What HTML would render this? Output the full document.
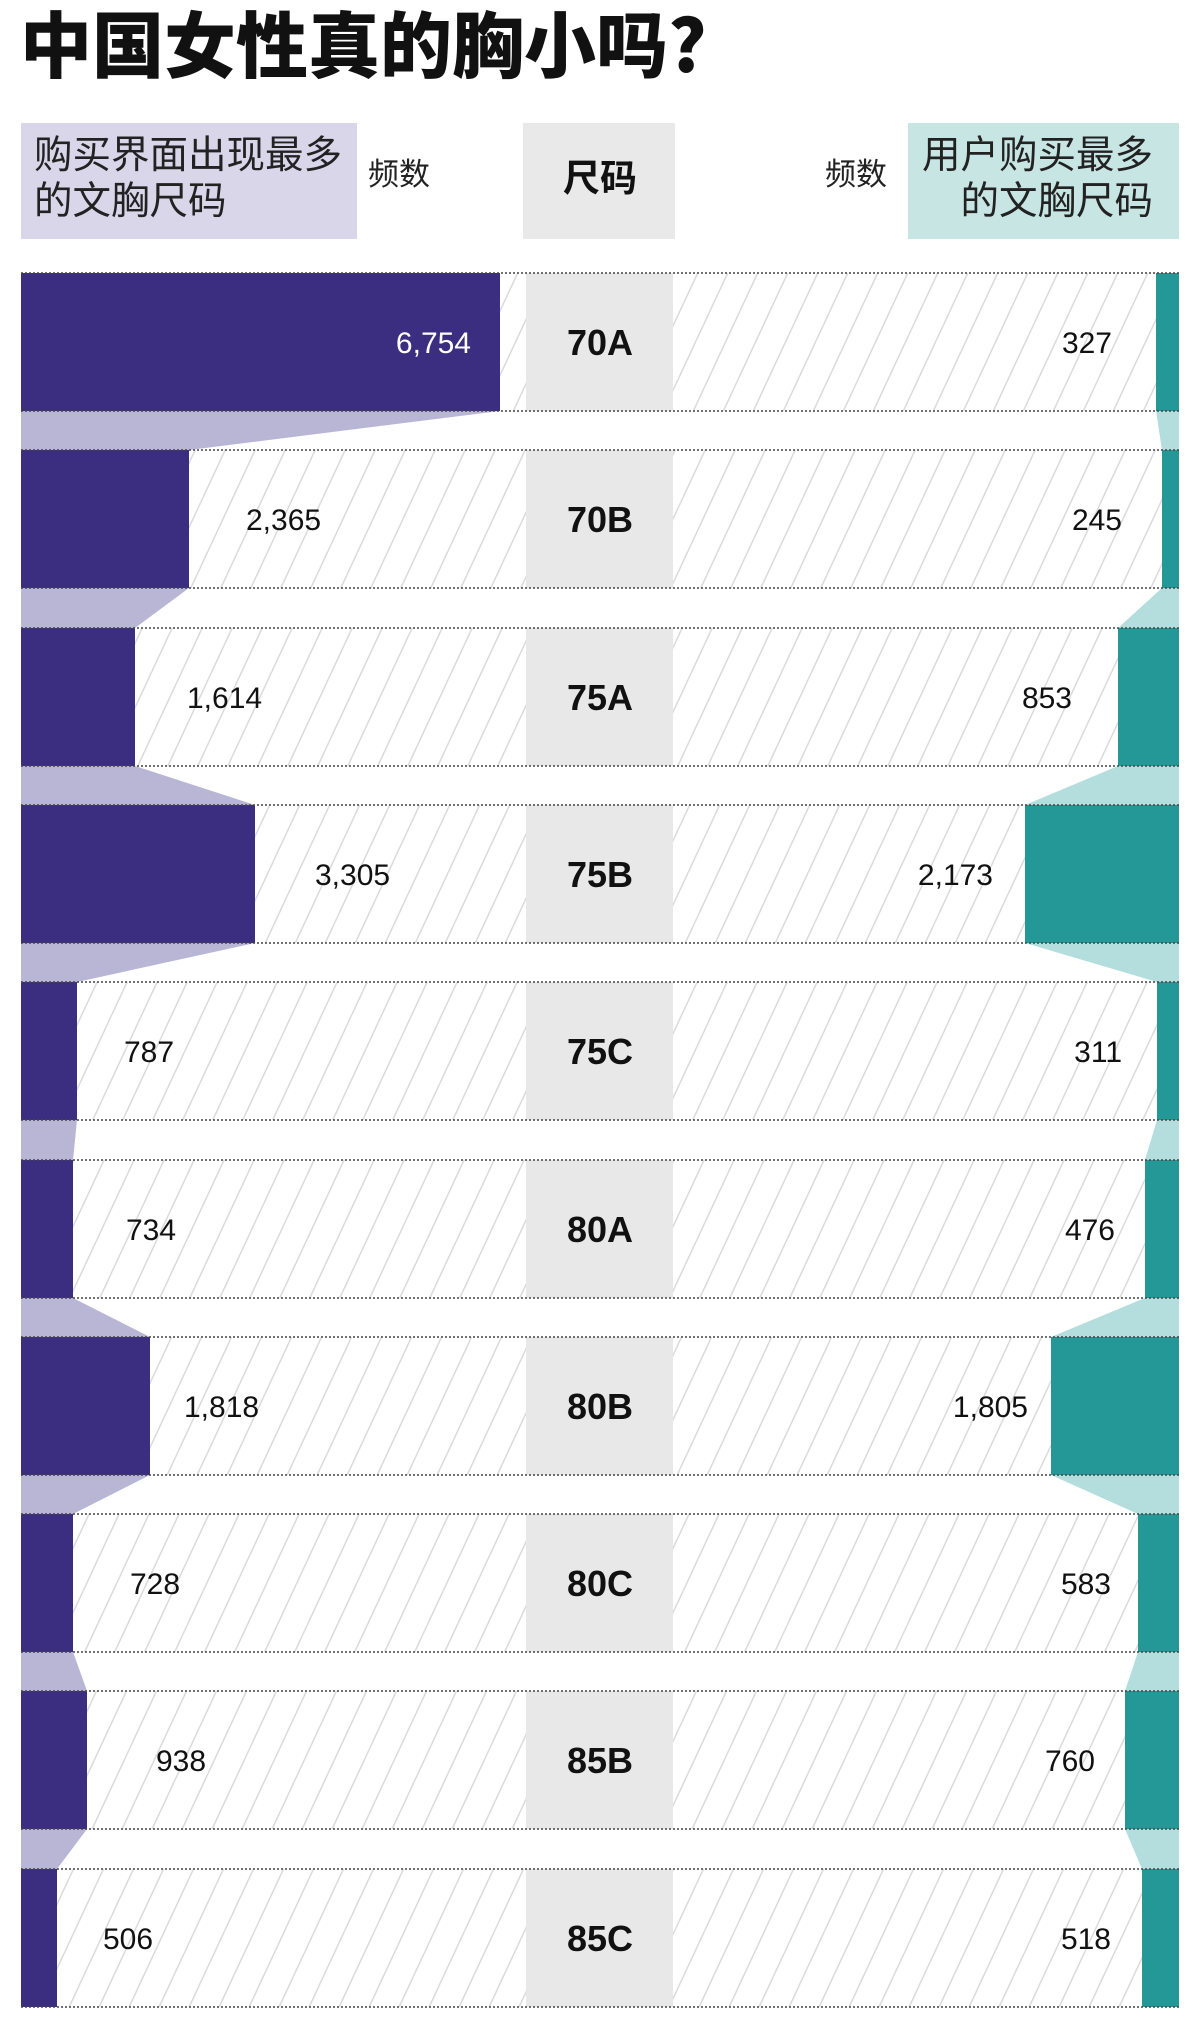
<!DOCTYPE html>
<html><head><meta charset="utf-8"><style>
html,body{margin:0;padding:0;background:#fff;}
svg{display:block;}
text{font-family:"Liberation Sans","Noto Sans CJK SC",sans-serif;}
.cjk{font-family:"Noto Sans CJK SC","WenQuanYi Zen Hei",sans-serif;}
.num{font-size:30px;fill:#111;}
.sz{font-size:36px;font-weight:bold;fill:#111;text-anchor:middle;}
</style></head><body>
<svg width="1200" height="2019" viewBox="0 0 1200 2019" xmlns="http://www.w3.org/2000/svg">
<defs>
<pattern id="h" width="30" height="64" patternUnits="userSpaceOnUse" patternTransform="skewX(-25)">
<line x1="15" y1="0" x2="15" y2="64" stroke="#d6d6d6" stroke-width="1.5"/>
</pattern>
</defs>
<text x="20" y="72" class="cjk" style="font-size:72px;font-weight:900;fill:#111">中国女性真的胸小吗?</text>

<rect x="21" y="123" width="336" height="116" fill="#d9d6e9"/>
<text x="34" y="168" class="cjk" style="font-size:38.5px;fill:#222">购买界面出现最多</text>
<text x="34" y="214" class="cjk" style="font-size:38.5px;fill:#222">的文胸尺码</text>
<text x="368" y="185" class="cjk" style="font-size:31px;fill:#222">频数</text>
<rect x="523" y="123" width="152" height="116" fill="#e9e9e9"/>
<text x="600" y="191" class="cjk" style="font-size:37px;font-weight:bold;fill:#111;text-anchor:middle">尺码</text>
<text x="825" y="185" class="cjk" style="font-size:31px;fill:#222">频数</text>
<rect x="908" y="123" width="271" height="116" fill="#c7e5e3"/>
<text x="1153" y="168" class="cjk" style="font-size:38.5px;fill:#222;text-anchor:end">用户购买最多</text>
<text x="1153" y="214" class="cjk" style="font-size:38.5px;fill:#222;text-anchor:end">的文胸尺码</text>

<g>
<rect x="21" y="273" width="1158" height="138" fill="url(#h)"/>
<rect x="21" y="450" width="1158" height="138" fill="url(#h)"/>
<rect x="21" y="628" width="1158" height="138" fill="url(#h)"/>
<rect x="21" y="805" width="1158" height="138" fill="url(#h)"/>
<rect x="21" y="982" width="1158" height="138" fill="url(#h)"/>
<rect x="21" y="1160" width="1158" height="138" fill="url(#h)"/>
<rect x="21" y="1337" width="1158" height="138" fill="url(#h)"/>
<rect x="21" y="1514" width="1158" height="138" fill="url(#h)"/>
<rect x="21" y="1691" width="1158" height="138" fill="url(#h)"/>
<rect x="21" y="1869" width="1158" height="138" fill="url(#h)"/>
</g>
<g fill="#e8e8e8">
<rect x="526" y="273" width="147" height="138"/>
<rect x="526" y="450" width="147" height="138"/>
<rect x="526" y="628" width="147" height="138"/>
<rect x="526" y="805" width="147" height="138"/>
<rect x="526" y="982" width="147" height="138"/>
<rect x="526" y="1160" width="147" height="138"/>
<rect x="526" y="1337" width="147" height="138"/>
<rect x="526" y="1514" width="147" height="138"/>
<rect x="526" y="1691" width="147" height="138"/>
<rect x="526" y="1869" width="147" height="138"/>
</g>
<g fill="#3b2d80">
<rect x="21" y="273" width="479" height="138"/>
<rect x="21" y="450" width="168" height="138"/>
<rect x="21" y="628" width="114" height="138"/>
<rect x="21" y="805" width="234" height="138"/>
<rect x="21" y="982" width="56" height="138"/>
<rect x="21" y="1160" width="52" height="138"/>
<rect x="21" y="1337" width="129" height="138"/>
<rect x="21" y="1514" width="52" height="138"/>
<rect x="21" y="1691" width="66" height="138"/>
<rect x="21" y="1869" width="36" height="138"/>
</g>
<g fill="#239896">
<rect x="1156" y="273" width="23" height="138"/>
<rect x="1162" y="450" width="17" height="138"/>
<rect x="1118" y="628" width="61" height="138"/>
<rect x="1025" y="805" width="154" height="138"/>
<rect x="1157" y="982" width="22" height="138"/>
<rect x="1145" y="1160" width="34" height="138"/>
<rect x="1051" y="1337" width="128" height="138"/>
<rect x="1138" y="1514" width="41" height="138"/>
<rect x="1125" y="1691" width="54" height="138"/>
<rect x="1142" y="1869" width="37" height="138"/>
</g>
<g fill="#b9b5d4">
<polygon points="21,411 500,411 189,450 21,450"/>
<polygon points="21,588 189,588 135,628 21,628"/>
<polygon points="21,766 135,766 255,805 21,805"/>
<polygon points="21,943 255,943 77,982 21,982"/>
<polygon points="21,1120 77,1120 73,1160 21,1160"/>
<polygon points="21,1298 73,1298 150,1337 21,1337"/>
<polygon points="21,1475 150,1475 73,1514 21,1514"/>
<polygon points="21,1652 73,1652 87,1691 21,1691"/>
<polygon points="21,1829 87,1829 57,1869 21,1869"/>
</g>
<g fill="#b3dedd">
<polygon points="1156,411 1179,411 1179,450 1162,450"/>
<polygon points="1162,588 1179,588 1179,628 1118,628"/>
<polygon points="1118,766 1179,766 1179,805 1025,805"/>
<polygon points="1025,943 1179,943 1179,982 1157,982"/>
<polygon points="1157,1120 1179,1120 1179,1160 1145,1160"/>
<polygon points="1145,1298 1179,1298 1179,1337 1051,1337"/>
<polygon points="1051,1475 1179,1475 1179,1514 1138,1514"/>
<polygon points="1138,1652 1179,1652 1179,1691 1125,1691"/>
<polygon points="1125,1829 1179,1829 1179,1869 1142,1869"/>
</g>
<g stroke="#444" stroke-width="1.5" stroke-dasharray="2,2">
<line x1="21" x2="1179" y1="273" y2="273"/><line x1="21" x2="1179" y1="411" y2="411"/>
<line x1="21" x2="1179" y1="450" y2="450"/><line x1="21" x2="1179" y1="588" y2="588"/>
<line x1="21" x2="1179" y1="628" y2="628"/><line x1="21" x2="1179" y1="766" y2="766"/>
<line x1="21" x2="1179" y1="805" y2="805"/><line x1="21" x2="1179" y1="943" y2="943"/>
<line x1="21" x2="1179" y1="982" y2="982"/><line x1="21" x2="1179" y1="1120" y2="1120"/>
<line x1="21" x2="1179" y1="1160" y2="1160"/><line x1="21" x2="1179" y1="1298" y2="1298"/>
<line x1="21" x2="1179" y1="1337" y2="1337"/><line x1="21" x2="1179" y1="1475" y2="1475"/>
<line x1="21" x2="1179" y1="1514" y2="1514"/><line x1="21" x2="1179" y1="1652" y2="1652"/>
<line x1="21" x2="1179" y1="1691" y2="1691"/><line x1="21" x2="1179" y1="1829" y2="1829"/>
<line x1="21" x2="1179" y1="1869" y2="1869"/><line x1="21" x2="1179" y1="2007" y2="2007"/>
</g>
<text class="sz" x="600" y="355">70A</text>
<text class="sz" x="600" y="532">70B</text>
<text class="sz" x="600" y="710">75A</text>
<text class="sz" x="600" y="887">75B</text>
<text class="sz" x="600" y="1064">75C</text>
<text class="sz" x="600" y="1242">80A</text>
<text class="sz" x="600" y="1419">80B</text>
<text class="sz" x="600" y="1596">80C</text>
<text class="sz" x="600" y="1773">85B</text>
<text class="sz" x="600" y="1951">85C</text>
<text class="num" x="471" y="353" style="fill:#fff;text-anchor:end">6,754</text>
<text class="num" x="246" y="530">2,365</text>
<text class="num" x="187" y="708">1,614</text>
<text class="num" x="315" y="885">3,305</text>
<text class="num" x="124" y="1062">787</text>
<text class="num" x="126" y="1240">734</text>
<text class="num" x="184" y="1417">1,818</text>
<text class="num" x="130" y="1594">728</text>
<text class="num" x="156" y="1771">938</text>
<text class="num" x="103" y="1949">506</text>
<g style="text-anchor:end">
<text class="num" x="1112" y="353">327</text>
<text class="num" x="1122" y="530">245</text>
<text class="num" x="1072" y="708">853</text>
<text class="num" x="993" y="885">2,173</text>
<text class="num" x="1122" y="1062">311</text>
<text class="num" x="1115" y="1240">476</text>
<text class="num" x="1028" y="1417">1,805</text>
<text class="num" x="1111" y="1594">583</text>
<text class="num" x="1095" y="1771">760</text>
<text class="num" x="1111" y="1949">518</text>
</g>
</svg>
</body></html>
